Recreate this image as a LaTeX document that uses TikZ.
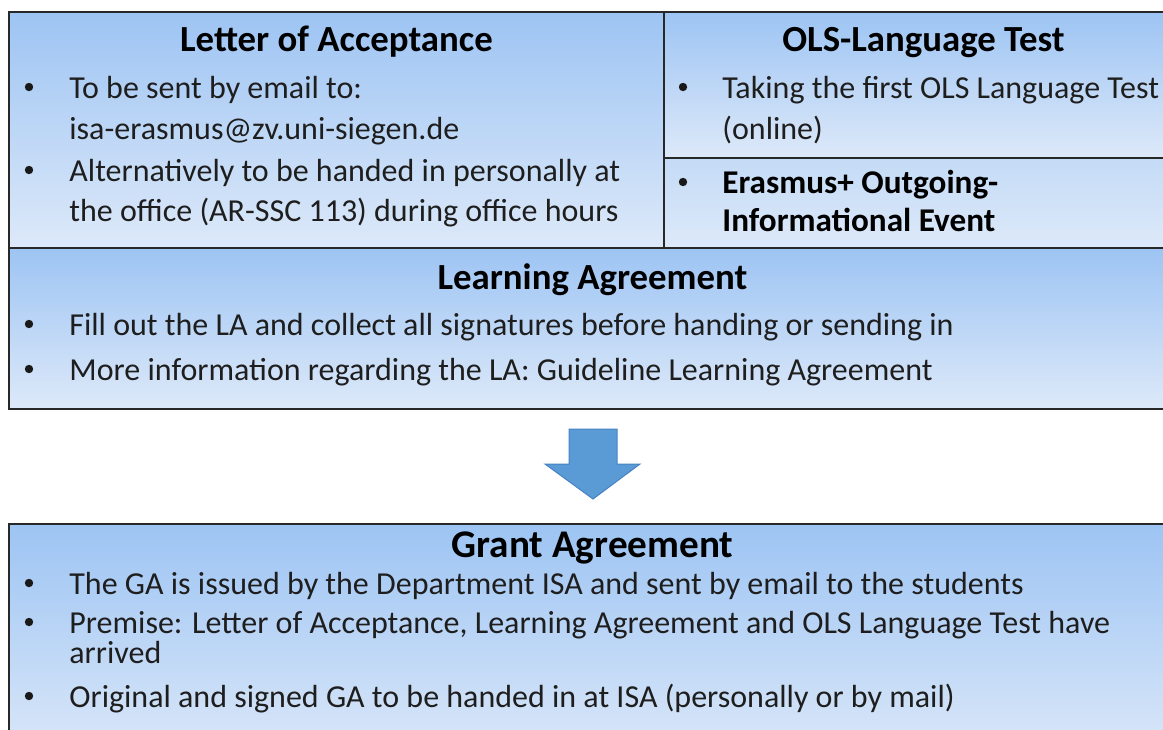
\documentclass[tikz,border=0pt]{standalone}
\usepackage{fontspec}
\setmainfont{Carlito}
\definecolor{gtop}{RGB}{157,196,243}
\definecolor{gbot}{RGB}{221,233,249}
\definecolor{etop}{RGB}{196,219,246}
\definecolor{boxline}{RGB}{40,40,40}
\definecolor{txtc}{RGB}{30,30,30}
\definecolor{arrfill}{RGB}{91,155,213}
\definecolor{arrline}{RGB}{70,130,195}
\begin{document}
\begin{tikzpicture}[x=0.5pt,y=-0.5pt,
  box/.style={draw=boxline, line width=1pt, top color=gtop, bottom color=gbot,
    rectangle, inner sep=0pt, outer sep=0pt, anchor=north west},
  ttl/.style={font=\fontsize{18.4}{22}\selectfont\bfseries, anchor=base, text=black, inner sep=0pt},
  bigttl/.style={font=\fontsize{19.6}{24}\selectfont\bfseries, anchor=base, text=black, inner sep=0pt},
  txt/.style={font=\fontsize{16}{19}\selectfont, anchor=base west, text=txtc, inner sep=0pt},
  btxt/.style={font=\fontsize{16.6}{20}\selectfont\bfseries, anchor=base west, text=black, inner sep=0pt},
  bul/.style={circle, fill=black!90, inner sep=0pt, minimum size=4.2pt}
]
\useasboundingbox (0,0) rectangle (1163,729);
\clip (0,0) rectangle (1163,729);

% boxes
\node[box, minimum width=327.5pt, minimum height=118pt] (loa) at (9,12) {};
\node[box, minimum width=258pt, minimum height=73pt] (ols) at (664,12) {};
\node[box, top color=etop, minimum width=258pt, minimum height=45pt] (era) at (664,158) {};
\node[box, minimum width=585.5pt, minimum height=80.5pt] (la) at (9,248) {};
\node[box, minimum width=585.5pt, minimum height=120pt] (ga) at (9,524) {};

% Letter of Acceptance
\node[ttl] (loat) at (336.5,51) {Letter of Acceptance};
\node[bul] (loab1) at (29,87) {};
\node[txt] (loa1) at (69,98) {To be sent by email to:};
\node[txt] (loa2) at (69,139) {isa-erasmus@zv.uni-siegen.de};
\node[bul] (loab2) at (29,170) {};
\node[txt] (loa3) at (69,181) {Alternatively to be handed in personally at};
\node[txt] (loa4) at (69,221) {the office (AR-SSC 113) during office hours};

% OLS
\node[ttl] (olst) at (923.5,51) {OLS-Language Test};
\node[bul] (olsb1) at (683,87) {};
\node[txt] (ols1) at (722,98) {Taking the first OLS Language Test};
\node[txt] (ols2) at (722,139) {(online)};

% Erasmus event
\node[bul] (erab1) at (683,182) {};
\node[btxt] (era1) at (722,193) {Erasmus+ Outgoing-};
\node[btxt] (era2) at (722,231) {Informational Event};

% Learning Agreement
\node[ttl] (lat) at (592.5,289) {Learning Agreement};
\node[bul] (lab1) at (29,324) {};
\node[txt] (la1) at (69,335) {Fill out the LA and collect all signatures before handing or sending in};
\node[bul] (lab2) at (29,369) {};
\node[txt] (la2) at (69,380) {More information regarding the LA: Guideline Learning Agreement};

% arrow
\filldraw[fill=arrfill, draw=arrline, line width=0.5pt]
  (569,429) -- (617,429) -- (617,464) -- (640,464) -- (593,499) -- (545,464) -- (569,464) -- cycle;

% Grant Agreement
\node[bigttl] (gat) at (592.5,557) {Grant Agreement};
\node[bul] (gab1) at (29,583) {};
\node[txt] (ga1) at (69,594) {The GA is issued by the Department ISA and sent by email to the students};
\node[bul] (gab2) at (29,622) {};
\node[txt] (ga2) at (69,633) {Premise: Letter of Acceptance, Learning Agreement and OLS Language Test have};
\node[txt] (ga3) at (69,663) {arrived};
\node[bul] (gab3) at (29,696) {};
\node[txt] (ga4) at (69,707) {Original and signed GA to be handed in at ISA (personally or by mail)};
\end{tikzpicture}
\end{document}
